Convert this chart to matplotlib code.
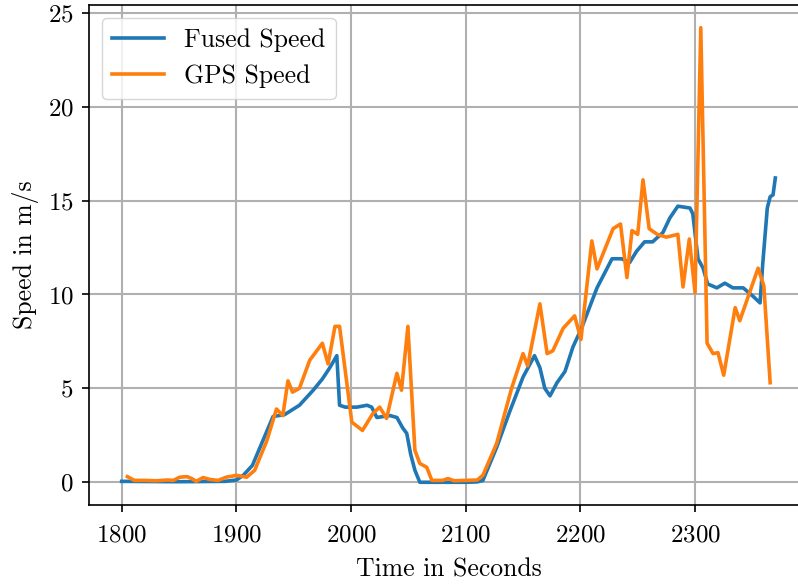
import matplotlib
matplotlib.use("Agg")
import matplotlib.pyplot as plt

# Computer Modern look (matplotlib ships cmr10)
plt.rcParams['font.family'] = 'cmr10'
plt.rcParams['mathtext.fontset'] = 'cm'
plt.rcParams['axes.formatter.use_mathtext'] = True
plt.rcParams['font.size'] = 16

# Fused speed estimate
fused_t = [1800, 1850, 1890, 1900, 1906, 1914, 1923, 1932, 1942, 1955,
           1967, 1975, 1981.5, 1987.6, 1990, 1995, 2005, 2014, 2018, 2022.5,
           2028, 2034, 2040, 2045, 2048.6, 2052, 2055.7, 2060, 2080, 2100,
           2110, 2115, 2127, 2138.6, 2150, 2160, 2164.7, 2169, 2173.5, 2179.6,
           2186.6, 2193.5, 2201, 2214.5, 2227.6, 2236, 2243, 2249, 2256, 2263,
           2272, 2278, 2285, 2295.6, 2298, 2302.6, 2307, 2311, 2319, 2326,
           2333, 2342, 2350.6, 2356.7, 2359, 2363, 2365.5, 2368, 2370]
fused_v = [0.05, 0.03, 0.05, 0.12, 0.37, 0.9, 2.2, 3.5, 3.6, 4.1,
           4.9, 5.5, 6.1, 6.74, 4.1, 4.0, 4.0, 4.1, 4.0, 3.45,
           3.5, 3.55, 3.45, 2.9, 2.6, 1.5, 0.64, 0.0, 0.0, 0.0,
           0.02, 0.1, 1.86, 3.8, 5.6, 6.74, 6.1, 5.0, 4.6, 5.3,
           5.9, 7.2, 8.2, 10.35, 11.9, 11.9, 11.7, 12.3, 12.8, 12.8,
           13.3, 14.07, 14.7, 14.6, 14.3, 11.9, 11.4, 10.56, 10.35, 10.6,
           10.35, 10.35, 9.9, 9.55, 11.6, 14.6, 15.2, 15.3, 16.2]

# Raw GPS speed
gps_t = [1805, 1811, 1820, 1830, 1840, 1845, 1850.6, 1857, 1861, 1865,
         1871, 1877, 1884, 1891.6, 1896, 1900, 1909, 1916, 1926.5, 1935,
         1940.5, 1945, 1949, 1955, 1964, 1975, 1980, 1986, 1990, 2000.7,
         2010, 2019, 2025, 2031, 2040, 2044, 2049.6, 2055.7, 2060, 2066,
         2070.5, 2080, 2084.5, 2090, 2100, 2110, 2115, 2127, 2140, 2150,
         2154, 2164.7, 2171, 2176, 2185, 2195, 2200.5, 2210, 2214.5, 2228.5,
         2235, 2240.6, 2245, 2250, 2254.6, 2260, 2267, 2275, 2285, 2289.5,
         2295, 2300, 2305, 2310.5, 2315.7, 2320, 2325, 2335, 2339, 2355,
         2360, 2365.5]
gps_v = [0.3, 0.1, 0.1, 0.08, 0.12, 0.1, 0.27, 0.3, 0.2, 0.05,
         0.25, 0.15, 0.1, 0.28, 0.32, 0.37, 0.27, 0.64, 2.2, 3.9,
         3.55, 5.4, 4.8, 5.0, 6.5, 7.4, 6.3, 8.3, 8.3, 3.2,
         2.76, 3.66, 4.0, 3.4, 5.8, 4.9, 8.3, 1.7, 1.0, 0.8,
         0.1, 0.1, 0.2, 0.08, 0.1, 0.12, 0.37, 2.07, 5.0, 6.85,
         6.2, 9.5, 6.85, 7.0, 8.2, 8.86, 7.6, 12.85, 11.36, 13.5,
         13.75, 10.9, 13.4, 13.2, 16.1, 13.5, 13.2, 13.05, 13.2, 10.4,
         12.95, 10.1, 24.2, 7.4, 6.85, 6.9, 5.7, 9.3, 8.6, 11.4,
         10.45, 5.3]

fig = plt.figure(figsize=(7.98, 5.85), dpi=100)
# the original was cropped on the right, so the axes run past the edge
ax = fig.add_axes([89 / 798, 80 / 585, 719 / 798, 500 / 585])

ax.plot(fused_t, fused_v, color='#1f77b4', lw=2.6, label='Fused Speed')
ax.plot(gps_t, gps_v, color='#ff7f0e', lw=2.6, label='GPS Speed')

ax.set_xlim(1771.5, 2398.5)
ax.set_ylim(-1.21, 25.41)
ax.set_xticks([1800, 1900, 2000, 2100, 2200, 2300])
ax.set_yticks([0, 5, 10, 15, 20, 25])
ax.tick_params(labelsize=18, length=5, width=1.2, pad=6)
ax.tick_params(axis='x', pad=9)
for s in ax.spines.values():
    s.set_linewidth(1.2)
ax.grid(True, color='#b0b0b0', lw=1.5)
ax.set_xlabel('Time in Seconds', fontsize=18.5, labelpad=8)
ax.set_ylabel('Speed in m/s', fontsize=18.5, labelpad=6)
ax.legend(loc='upper left', fontsize=18.5, handlelength=2.0)

fig.savefig('out.png', dpi=100)
